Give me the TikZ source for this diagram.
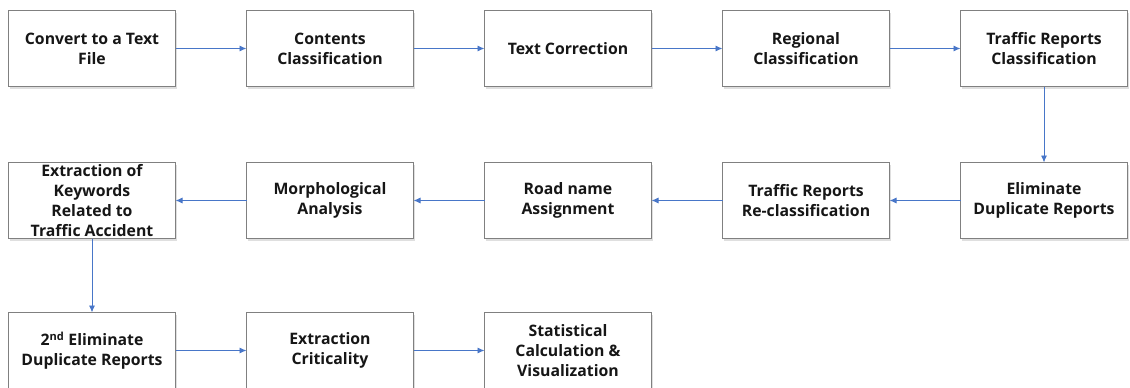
\documentclass[tikz,border=0pt]{standalone}
\usepackage{fontspec}
\setmainfont{Open Sans}
\usetikzlibrary{arrows.meta,positioning,shadows}
\definecolor{boxline}{RGB}{128,128,128}
\definecolor{flowline}{RGB}{72,118,200}
\definecolor{boxtext}{RGB}{22,22,22}
\tikzset{
  box/.style={
    draw=boxline,
    fill=white,
    line width=1.2pt,
    align=center,
    inner sep=2pt,
    outer sep=0pt,
    minimum width=167pt,
    minimum height=76pt,
    text=boxtext,
    font=\bfseries\fontsize{15.8}{19.8}\selectfont,
    drop shadow={shadow xshift=1pt, shadow yshift=-2pt, opacity=0.25, fill=black!50}
  },
  arrow/.style={-{Latex[length=7pt,width=6pt]}, draw=flowline, line width=0.9pt}
}

\begin{document}
\begin{tikzpicture}[x=1pt, y=-1pt, node distance=76pt and 71pt]
  \useasboundingbox (0,0) rectangle (1130,388);

  % first row, left to right
  \node[box] (conv) at (92,48.5) {Convert to a Text\\File};
  \node[box, right=of conv] (cont) {Contents\\Classification};
  \node[box, right=of cont] (corr) {Text Correction};
  \node[box, right=of corr] (regn) {Regional\\Classification};
  \node[box, right=of regn] (trcl) {Traffic Reports\\Classification};

  % second row, right to left
  \node[box, below=of trcl] (elim) {Eliminate\\Duplicate Reports};
  \node[box, left=of elim] (recl) {Traffic Reports\\Re-classification};
  \node[box, left=of recl] (road) {Road name\\Assignment};
  \node[box, left=of road] (morph) {Morphological\\Analysis};
  \node[box, left=of morph] (keyw) {Extraction of\\Keywords\\Related to\\Traffic Accident};

  % third row
  \node[box, below=74pt of keyw] (elim2) {2\textsuperscript{nd} Eliminate\\Duplicate Reports};
  \node[box, right=of elim2] (crit) {Extraction\\Criticality};
  \node[box, right=of crit] (stat) {Statistical\\Calculation \&\\Visualization};

  \draw[arrow] (conv) -- (cont);
  \draw[arrow] (cont) -- (corr);
  \draw[arrow] (corr) -- (regn);
  \draw[arrow] (regn) -- (trcl);
  \draw[arrow] (trcl) -- (elim);
  \draw[arrow] (elim) -- (recl);
  \draw[arrow] (recl) -- (road);
  \draw[arrow] (road) -- (morph);
  \draw[arrow] (morph) -- (keyw);
  \draw[arrow] (keyw) -- (elim2);
  \draw[arrow] (elim2) -- (crit);
  \draw[arrow] (crit) -- (stat);
\end{tikzpicture}
\end{document}
